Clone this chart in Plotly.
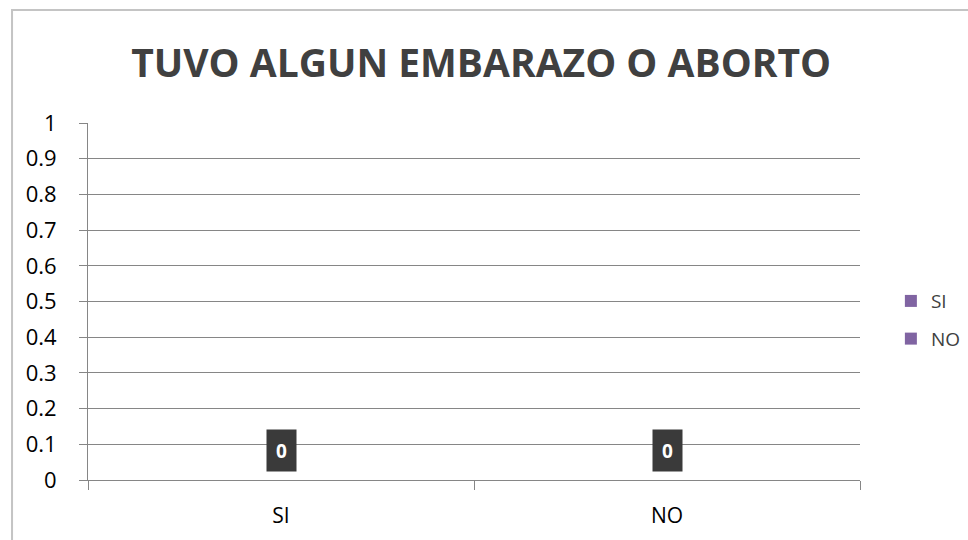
import plotly.graph_objects as go

# Chart data
categories = ["SI", "NO"]
values = [0, 0]
title_text = "TUVO ALGUN EMBARAZO O ABORTO"
y_ticks = [0, 0.1, 0.2, 0.3, 0.4, 0.5, 0.6, 0.7, 0.8, 0.9, 1]
y_tick_labels = ["0", "0.1", "0.2", "0.3", "0.4", "0.5", "0.6", "0.7", "0.8", "0.9", "1"]

BAR_COLOR = "#8064A2"
GRID = "#868686"
FONT = "Open Sans"

fig = go.Figure()
for cat, val in zip(categories, values):
    fig.add_trace(go.Bar(
        x=[cat], y=[val], name=cat, legendgroup=cat,
        marker=dict(color=BAR_COLOR, line=dict(width=0)),
        width=0.5,
        hoverinfo="x+y",
    ))

# value labels in dark boxes above each bar
for cat, val in zip(categories, values):
    fig.add_annotation(
        x=cat, y=val, xref="x", yref="y",
        text=f"<b>{val}</b>", showarrow=False,
        yanchor="bottom", yshift=8,
        width=29, height=41, align="center", valign="middle",
        font=dict(family=FONT, size=19, color="white"),
        bgcolor="#3a3a3a", borderpad=0,
    )

# outer chart border
fig.add_shape(
    type="rect", xref="paper", yref="paper",
    x0=-0.0984, x1=1.2, y0=-0.3, y1=1.3165,
    line=dict(color="#C4C4C4", width=2), layer="below",
)

fig.update_layout(
    width=968, height=540,
    margin=dict(l=88, r=108, t=123, b=60, autoexpand=False),
    paper_bgcolor="white", plot_bgcolor="white",
    barmode="overlay",
    title=dict(
        text=f"<b>{title_text}</b>",
        x=0.497, xref="container", xanchor="center",
        y=0.8833, yref="container", yanchor="middle",
        font=dict(family=FONT, size=39, color="#404040"),
    ),
    showlegend=True,
    legend=dict(
        x=1.04, y=0.448, xanchor="left", yanchor="middle",
        font=dict(family=FONT, size=19, color="#404040"),
        tracegroupgap=10, itemwidth=30,
        bgcolor="rgba(0,0,0,0)",
    ),
    font=dict(family=FONT, color="#000000"),
)

fig.update_yaxes(
    range=[0, 1], tickvals=y_ticks, ticktext=y_tick_labels,
    showgrid=True, gridcolor=GRID, gridwidth=1,
    showline=True, linecolor=GRID, linewidth=1,
    ticks="outside", ticklen=8, tickcolor=GRID,
    tickfont=dict(family=FONT, size=22, color="#000000"),
    ticklabelstandoff=18,
    zeroline=False, fixedrange=True,
)

fig.update_xaxes(
    showline=True, linecolor=GRID, linewidth=1,
    ticks="outside", ticklen=9, tickcolor=GRID,
    tickson="boundaries",
    tickfont=dict(family=FONT, size=21, color="#000000"),
    ticklabelstandoff=17,
    showgrid=False, fixedrange=True,
)

fig.write_html("out.html")
